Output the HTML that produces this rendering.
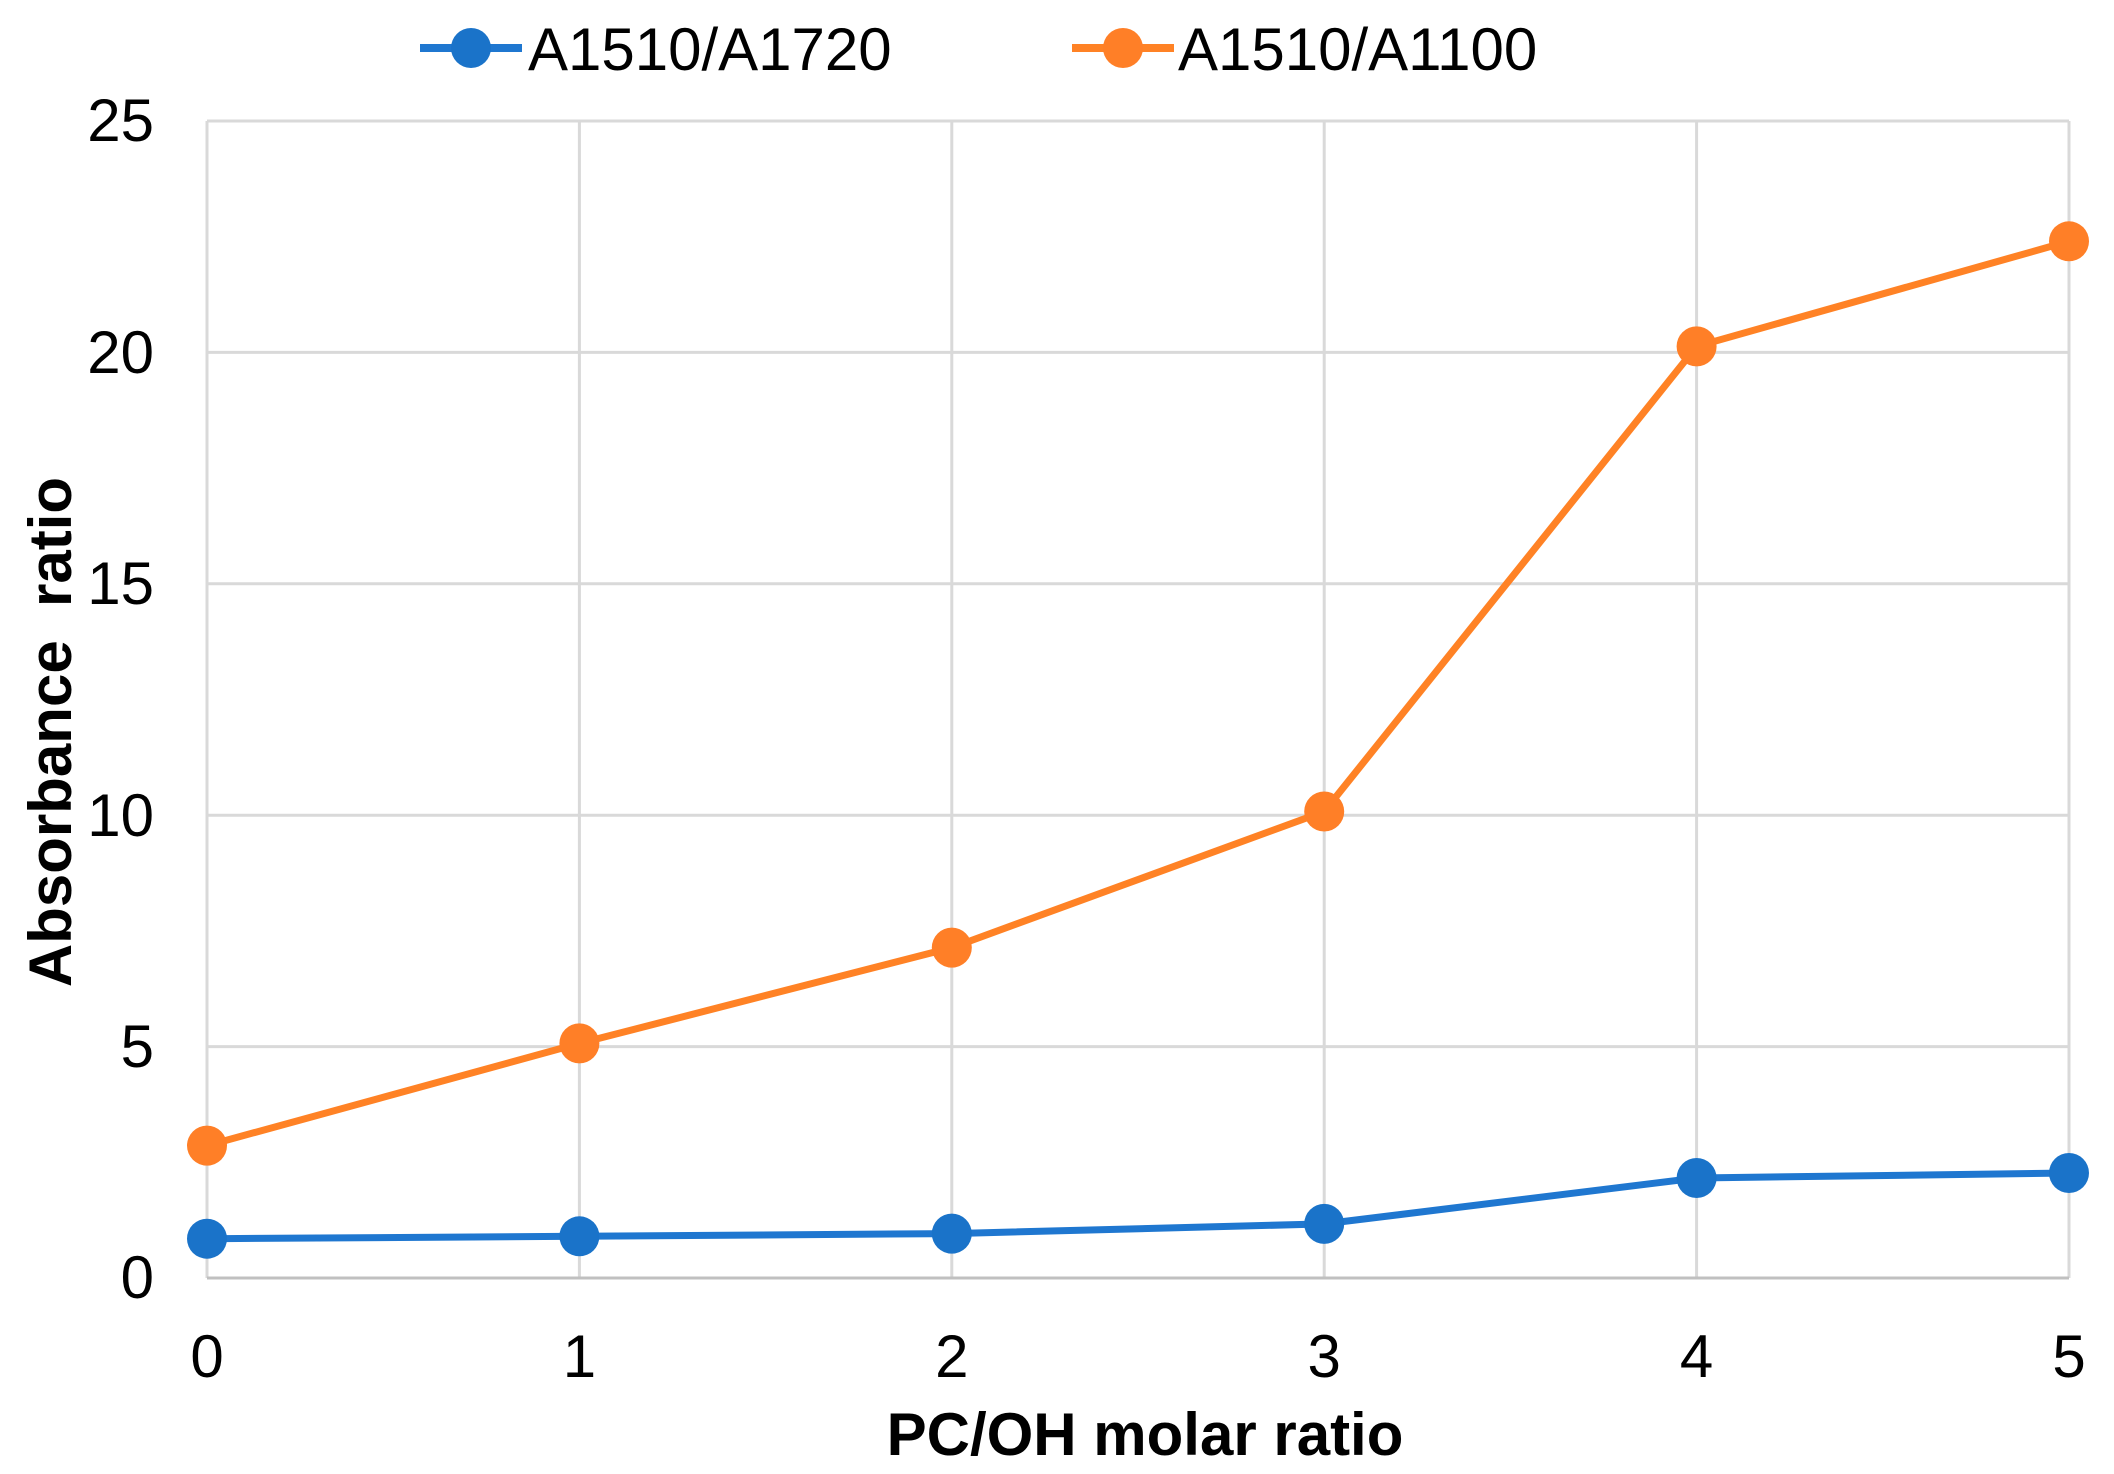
<!DOCTYPE html>
<html><head><meta charset="utf-8"><style>body{margin:0;background:#fff}svg{display:block}</style></head><body>
<svg width="2114" height="1474" xmlns="http://www.w3.org/2000/svg" font-family="Liberation Sans, Arial, sans-serif">
<g stroke="#d9d9d9" stroke-width="3">
<line x1="207" y1="121" x2="2069" y2="121"/><line x1="207" y1="352.4" x2="2069" y2="352.4"/><line x1="207" y1="583.8" x2="2069" y2="583.8"/><line x1="207" y1="815.2" x2="2069" y2="815.2"/><line x1="207" y1="1046.6" x2="2069" y2="1046.6"/>
<line x1="207" y1="121" x2="207" y2="1278"/><line x1="579.4" y1="121" x2="579.4" y2="1278"/><line x1="951.8" y1="121" x2="951.8" y2="1278"/><line x1="1324.2" y1="121" x2="1324.2" y2="1278"/><line x1="1696.6" y1="121" x2="1696.6" y2="1278"/><line x1="2069" y1="121" x2="2069" y2="1278"/>
</g>
<line x1="207" y1="1278" x2="2069" y2="1278" stroke="#c0c0c0" stroke-width="3"/>
<g font-size="60" fill="#000" text-anchor="end">
<text x="154" y="141">25</text><text x="154" y="373">20</text><text x="154" y="604">15</text><text x="154" y="836">10</text><text x="154" y="1067">5</text><text x="154" y="1298">0</text>
</g>
<g font-size="60" fill="#000" text-anchor="middle">
<text x="207" y="1377">0</text><text x="579.4" y="1377">1</text><text x="951.8" y="1377">2</text><text x="1324.2" y="1377">3</text><text x="1696.6" y="1377">4</text><text x="2069" y="1377">5</text>
</g>
<text x="1145" y="1455" font-size="60" font-weight="bold" text-anchor="middle">PC/OH molar ratio</text>
<text transform="translate(71,732) rotate(-90)" font-size="60" font-weight="bold" text-anchor="middle" xml:space="preserve">Absorbance  ratio</text>
<polyline fill="none" stroke="#1f77d0" stroke-width="7" points="207,1238.7 579.4,1236.3 951.8,1233.6 1324.2,1223.9 1696.6,1178 2069,1173"/>
<g fill="#1a73c9"><circle cx="207" cy="1238.7" r="20"/><circle cx="579.4" cy="1236.3" r="20"/><circle cx="951.8" cy="1233.6" r="20"/><circle cx="1324.2" cy="1223.9" r="20"/><circle cx="1696.6" cy="1178" r="20"/><circle cx="2069" cy="1173" r="20"/></g>
<polyline fill="none" stroke="#ff8225" stroke-width="7" points="207,1145.6 579.4,1043.4 951.8,947.6 1324.2,811.5 1696.6,346.4 2069,241.3"/>
<g fill="#ff7f27"><circle cx="207" cy="1145.6" r="20"/><circle cx="579.4" cy="1043.4" r="20"/><circle cx="951.8" cy="947.6" r="20"/><circle cx="1324.2" cy="811.5" r="20"/><circle cx="1696.6" cy="346.4" r="20"/><circle cx="2069" cy="241.3" r="20"/></g>
<line x1="420" y1="48" x2="522" y2="48" stroke="#1f77d0" stroke-width="8"/><circle cx="471" cy="48" r="20" fill="#1a73c9"/>
<text x="528" y="70" font-size="60">A1510/A1720</text>
<line x1="1072" y1="48" x2="1174" y2="48" stroke="#ff8225" stroke-width="8"/><circle cx="1123" cy="48" r="20" fill="#ff7f27"/>
<text x="1178" y="70" font-size="60">A1510/A1100</text>
</svg>
</body></html>
